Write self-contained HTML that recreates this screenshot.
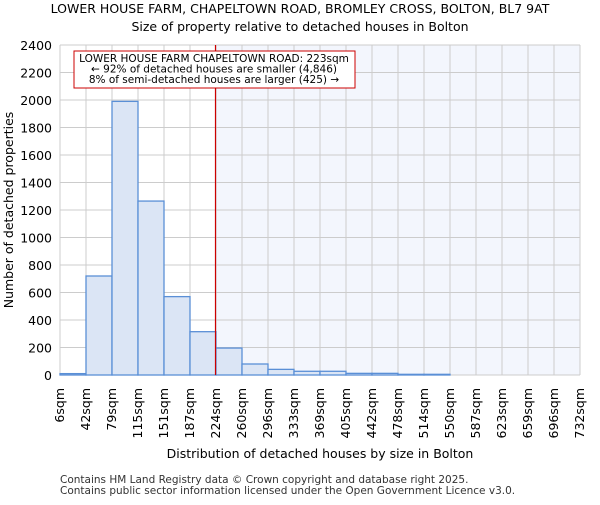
<!DOCTYPE html>
<html><head><meta charset="utf-8"><style>body{margin:0;background:#fff}svg{font-family:"DejaVu Sans","Liberation Sans",sans-serif}</style></head>
<body>
<svg id="chart" width="600" height="500" xmlns="http://www.w3.org/2000/svg">
<text x="300" y="13" text-anchor="middle" font-size="12.5">LOWER HOUSE FARM, CHAPELTOWN ROAD, BROMLEY CROSS, BOLTON, BL7 9AT</text>
<text x="300" y="31" text-anchor="middle" font-size="12.5">Size of property relative to detached houses in Bolton</text>
<g id="plot"></g>
<text transform="translate(13,210) rotate(-90)" text-anchor="middle" font-size="12.5">Number of detached properties</text>
<text x="320" y="458" text-anchor="middle" font-size="12.5">Distribution of detached houses by size in Bolton</text>
<text x="60" y="483" font-size="10.5" fill="#333">Contains HM Land Registry data © Crown copyright and database right 2025.</text>
<text x="60" y="494" font-size="10.5" fill="#333">Contains public sector information licensed under the Open Government Licence v3.0.</text>
</svg>
<script>
const binLabels=["6sqm","42sqm","79sqm","115sqm","151sqm","187sqm","224sqm","260sqm","296sqm","333sqm","369sqm","405sqm","442sqm","478sqm","514sqm","550sqm","587sqm","623sqm","659sqm","696sqm","732sqm"];
const counts=[10,720,1990,1265,570,315,196,80,41,27,27,12,12,5,5,0,0,0,0,0];
const yTicks=[0,200,400,600,800,1000,1200,1400,1600,1800,2000,2200,2400];
const propertyBin=6;
const L=60,R=580,T=45,B=375,yMax=2400;
const bw=(R-L)/counts.length;
const xs=i=>L+i*bw;
const ys=v=>B-(v/yMax)*(B-T);
const g=document.getElementById('plot');
const NS='http://www.w3.org/2000/svg';
function mk(t,a){const e=document.createElementNS(NS,t);for(const k in a)e.setAttribute(k,a[k]);g.appendChild(e);return e;}
const px=xs(propertyBin)-0.5;
const sh=mk('rect',{x:px,y:T,width:R-px,height:B-T,fill:'#f3f6fd'});


yTicks.forEach(v=>{
 const l=mk('line',{x1:L,x2:R,y1:ys(v),y2:ys(v),stroke:'#ccc'});
 
 
 const t=mk('text',{x:L-8,y:ys(v)+5,'text-anchor':'end','font-size':'12.5'});
 t.textContent=v;
 
 
});
binLabels.forEach((s,i)=>{
 const l=mk('line',{x1:xs(i),x2:xs(i),y1:T,y2:B,stroke:'#ccc'});
 
 
 const t=mk('text',{transform:`translate(${xs(i)+4},388) rotate(-90)`,'text-anchor':'end','font-size':'12.5'});
 t.textContent=s;
 
 
});
counts.forEach((v,i)=>{
 if(v<=0)return;
 const r=mk('rect',{x:xs(i),y:ys(v),width:bw,height:B-ys(v),fill:'#dbe5f5',stroke:'#5a8fd6','stroke-width':1.3});
 
 
});
const pl=mk('line',{x1:px,x2:px,y1:T,y2:B,stroke:'#cc0000','stroke-width':1.2});


const box=mk('rect',{x:74,y:51,width:281,height:37,fill:'#fff',stroke:'#cc0000','stroke-width':1});


["LOWER HOUSE FARM CHAPELTOWN ROAD: 223sqm","← 92% of detached houses are smaller (4,846)","8% of semi-detached houses are larger (425) →"].forEach((s,i)=>{
 const t=mk('text',{x:214,y:62+i*10.5,'text-anchor':'middle','font-size':'10.5'});
 t.textContent=s;
 
 
});
</script>
</body></html>
